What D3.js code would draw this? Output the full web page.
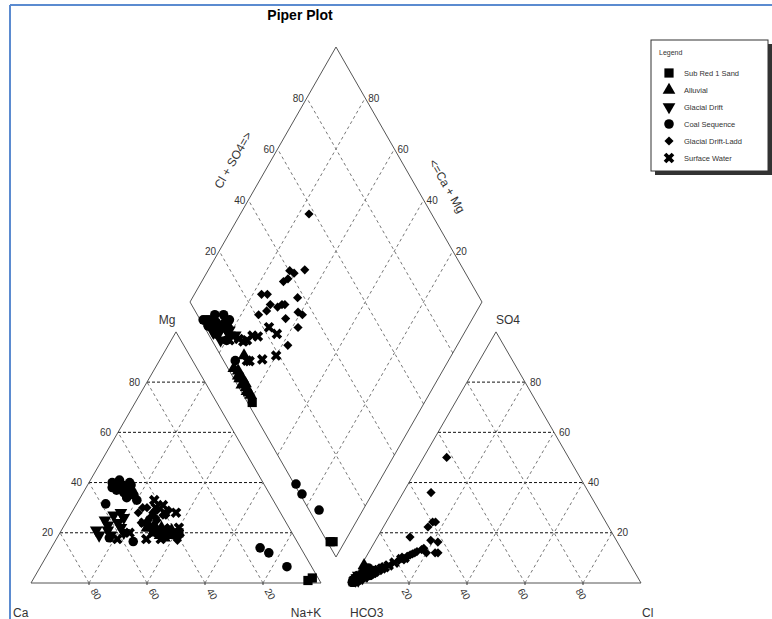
<!DOCTYPE html>
<meta charset="utf-8">
<style>
body { margin: 0; background: #fff; }
text { font-family: Arial, "Liberation Sans", sans-serif; }
.edge { fill: none; stroke: #555; stroke-width: 1px; }
.gridh { stroke: #111; stroke-width: 1px; stroke-dasharray: 3,2; }
.gridd { stroke: #777; stroke-width: 1px; stroke-dasharray: 3,3; }
.tick { fill: #333; font-size: 10px; }
.atitle { fill: #333; font-size: 12px; }
</style>
<body>
<script src="https://d3js.org/d3.v7.min.js"></script>
<script>

// legend / series names
var seriesNames = ["Sub Red 1 Sand", "Alluvial", "Glacial Drift", "Coal Sequence", "Glacial Drift-Ladd", "Surface Water"];
var tickValues = [20, 40, 60, 80];

// samples: [Mg, Na+K, SO4, Cl] in percent (Ca and HCO3 are the rest)
var subRedSand = [[2, 96, 1, 1], [20, 41, 1, 0.6], [1, 95, 0.5, 0.5]];
var alluvial = [[24, 28, 1.5, 0.5], [22, 30, 2, 1], [23, 31, 1, 1], [21, 32, 1.5, 0.5], [20, 33, 2, 1],
  [22, 34, 1, 0.5], [19, 35, 2, 1], [20, 36, 1.5, 1], [18, 37, 1, 1], [21, 38, 2, 0.5], [19, 39, 1.5, 1], [22, 29, 7, 1]];
var glacialDrift = [[19, 14, 1, 1], [19, 18, 2, 1], [21, 12, 1, 2], [23, 15, 2, 2], [25, 13, 3, 1], [27, 15, 2, 3],
  [24, 18, 4, 3], [22, 20, 3, 4], [26, 19, 5, 3], [28, 17, 3, 4], [20, 22, 4, 5], [21, 16, 2, 2]];
var coalSequence = [[40, 8, 0.5, 0.5], [41, 10, 1, 1], [39, 12, 2, 1], [40, 14, 1, 2], [38, 13, 3, 2], [37, 16, 3, 3],
  [36, 17, 5, 5], [38, 9, 1, 1], [39.5, 11, 0.5, 1], [31.5, 10, 2, 1], [35, 18, 4, 4], [33, 20, 2, 3],
  [37, 11, 4, 2], [36, 14, 6, 3], [34, 16, 3, 5], [39, 15, 2, 0.5],
  [18, 18, 4, 4], [16.5, 27, 2, 2], [14, 72, 0.3, 0.3], [12, 76, 0.3, 0.4], [6.5, 85, 1.5, 1.9]];
var glacialDriftLadd = [[30, 23.5, 50, 8], [29, 33, 36, 9.6], [28, 28, 24.3, 16], [26, 28, 17, 19], [30, 25, 12, 16],
  [28, 23, 11.2, 14.8], [25, 28, 11.6, 15.4], [24, 28, 10.5, 14], [27, 33, 13.8, 18.2], [22, 36, 22.3, 15.4],
  [20, 39, 12, 23], [18, 41, 12, 24], [22, 36, 18.3, 11.2], [19, 42, 12, 20], [17, 42, 10.7, 14.3],
  [25, 31, 12.5, 16.5], [27, 32, 13.3, 17.7], [29, 29, 16.3, 21.8], [26, 30, 24.3, 17], [24, 26, 9, 12]];
var surfaceWater = [[33, 26, 4.5, 6], [30, 28, 6.3, 8.5], [28, 32, 9.5, 12.6], [28, 36, 10, 13.5], [20, 32, 3.8, 5],
  [17.5, 36, 5.8, 7.7], [22, 40, 8.1, 10.9], [20, 24, 4, 5.5], [17.5, 21, 2.6, 3.4], [17.5, 31, 3.4, 4.6],
  [24, 27, 5.2, 6.8], [31, 30, 7, 9.5]];

var seriesData = [subRedSand, alluvial, glacialDrift, coalSequence, glacialDriftLadd, surfaceWater];

// scales for the two triangles and the diamond
var xL = d3.scaleLinear().domain([0, 100]).range([31, 321]);
var xR = d3.scaleLinear().domain([0, 100]).range([351, 641]);
var yT = d3.scaleLinear().domain([0, 100]).range([583, 331.9]);
var xD = d3.scaleLinear().domain([-100, 100]).range([190, 482]);   // (Cl+SO4) - (Ca+Mg)
var yD = d3.scaleLinear().domain([0, 200]).range([557, 47]);       // (Cl+SO4) + (Ca+Mg)

function cat(mg, nak) { return [xL(nak + mg / 2), yT(mg)]; }
function ani(so4, cl) { return [xR(cl + so4 / 2), yT(so4)]; }
function dia(camg, clso4) { return [xD(clso4 - camg), yD(camg + clso4)]; }

var svg = d3.select("body").append("svg")
    .attr("width", 772)
    .attr("height", 619);

// window frame
svg.append("line").attr("x1", 10).attr("y1", 5).attr("x2", 772).attr("y2", 5)
    .attr("stroke", "#5b8bd0").attr("stroke-width", 2);
svg.append("line").attr("x1", 10).attr("y1", 5).attr("x2", 10).attr("y2", 619)
    .attr("stroke", "#5b8bd0").attr("stroke-width", 2);

svg.append("text").attr("x", 300).attr("y", 20).attr("text-anchor", "middle")
    .style("font-size", "14px").style("font-weight", "bold").text("Piper Plot");

var line = d3.line();
var g = svg.append("g");

// grid lines
tickValues.forEach(function(t) {
  // cation triangle
  g.append("path").attr("class", "gridh").attr("d", line([cat(t, 0), cat(t, 100 - t)]));
  g.append("path").attr("class", "gridd").attr("d", line([cat(0, t), cat(100 - t, t)]));
  g.append("path").attr("class", "gridd").attr("d", line([cat(0, 100 - t), cat(100 - t, 0)]));
  // anion triangle
  g.append("path").attr("class", "gridh").attr("d", line([ani(t, 0), ani(t, 100 - t)]));
  g.append("path").attr("class", "gridd").attr("d", line([ani(0, t), ani(100 - t, t)]));
  g.append("path").attr("class", "gridd").attr("d", line([ani(0, 100 - t), ani(100 - t, 0)]));
  // diamond
  g.append("path").attr("class", "gridd").attr("d", line([dia(t, 0), dia(t, 100)]));
  g.append("path").attr("class", "gridd").attr("d", line([dia(0, t), dia(100, t)]));
});

// outlines
g.append("path").attr("class", "edge").attr("d", line([cat(0, 0), cat(0, 100), cat(100, 0)]) + "Z");
g.append("path").attr("class", "edge").attr("d", line([ani(0, 0), ani(0, 100), ani(100, 0)]) + "Z");
g.append("path").attr("class", "edge").attr("d", line([dia(0, 0), dia(100, 0), dia(100, 100), dia(0, 100)]) + "Z");

// tick labels
tickValues.forEach(function(t) {
  // cation bottom: Ca
  var p = cat(0, 100 - t);
  g.append("line").attr("x1", p[0]).attr("x2", p[0]).attr("y1", p[1]).attr("y2", p[1] + 2).attr("stroke", "#333");
  g.append("text").attr("class", "tick").attr("text-anchor", "middle").attr("dy", "0.35em")
      .attr("transform", "translate(" + (p[0] + 7) + "," + (p[1] + 11) + ") rotate(60)").text(t);
  // cation left: Mg
  p = cat(t, 0);
  g.append("text").attr("class", "tick").attr("text-anchor", "end").attr("dy", "0.35em")
      .attr("x", p[0] - 7).attr("y", p[1]).text(t);
  // anion bottom: Cl
  p = ani(0, t);
  g.append("line").attr("x1", p[0]).attr("x2", p[0]).attr("y1", p[1]).attr("y2", p[1] + 2).attr("stroke", "#333");
  g.append("text").attr("class", "tick").attr("text-anchor", "middle").attr("dy", "0.35em")
      .attr("transform", "translate(" + (p[0] - 2) + "," + (p[1] + 11) + ") rotate(60)").text(t);
  // anion right: SO4
  p = ani(t, 100 - t);
  g.append("text").attr("class", "tick").attr("dy", "0.35em")
      .attr("x", p[0] + 5).attr("y", p[1]).text(t);
  // diamond upper left: Cl+SO4
  p = dia(100, t);
  g.append("text").attr("class", "tick").attr("text-anchor", "end").attr("dy", "0.35em")
      .attr("x", p[0] - 3).attr("y", p[1]).text(t);
  // diamond upper right: Ca+Mg
  p = dia(t, 100);
  g.append("text").attr("class", "tick").attr("dy", "0.35em")
      .attr("x", p[0] + 3).attr("y", p[1]).text(t);
});

// axis titles
g.append("text").attr("class", "atitle").attr("x", 167).attr("y", 324).attr("text-anchor", "middle").text("Mg");
g.append("text").attr("class", "atitle").attr("x", 13).attr("y", 617).text("Ca");
g.append("text").attr("class", "atitle").attr("x", 306).attr("y", 617).attr("text-anchor", "middle").text("Na+K");
g.append("text").attr("class", "atitle").attr("x", 350).attr("y", 617).text("HCO3");
g.append("text").attr("class", "atitle").attr("x", 642).attr("y", 617).text("Cl");
g.append("text").attr("class", "atitle").attr("x", 508).attr("y", 324).attr("text-anchor", "middle").text("SO4");
g.append("text").attr("class", "atitle").attr("text-anchor", "middle").attr("dy", "0.35em")
    .attr("transform", "translate(233,160) rotate(-60)").text("Cl + SO4=>");
g.append("text").attr("class", "atitle").attr("text-anchor", "middle").attr("dy", "0.35em")
    .attr("transform", "translate(447,186) rotate(60)").text("<=Ca + Mg");

// marker symbols
var symbols = [
  {type: d3.symbolSquare, size: 85, rot: 0},
  {type: d3.symbolTriangle, size: 70, rot: 0},
  {type: d3.symbolTriangle, size: 70, rot: 180},
  {type: d3.symbolCircle, size: 72, rot: 0},
  {type: d3.symbolSquare, size: 42, rot: 45},
  {type: d3.symbolCross, size: 70, rot: 45}
];

function drawPoints(data, k) {
  var sym = d3.symbol().type(symbols[k].type).size(symbols[k].size);
  var pts = [];
  data.forEach(function(d) {
    pts.push(cat(d[0], d[1]));
    pts.push(ani(d[2], d[3]));
    pts.push(dia(100 - d[1], d[2] + d[3]));
  });
  g.append("g").selectAll("path").data(pts).join("path")
      .attr("d", sym)
      .attr("fill", "#000")
      .attr("transform", function(p) { return "translate(" + p[0] + "," + p[1] + ") rotate(" + symbols[k].rot + ")"; });
}
seriesData.forEach(drawPoints);

// legend
var lg = svg.append("g");
lg.append("rect").attr("x", 655).attr("y", 44).attr("width", 117).attr("height", 131).attr("fill", "#333");
lg.append("rect").attr("x", 651).attr("y", 40).attr("width", 117).attr("height", 131)
    .attr("fill", "#fff").attr("stroke", "#333");
lg.append("text").attr("x", 659).attr("y", 55).style("font-size", "7px").attr("fill", "#333").text("Legend");
seriesNames.forEach(function(name, i) {
  var y = 73 + i * 17;
  var sym = d3.symbol().type(symbols[i].type).size(symbols[i].size);
  lg.append("path").attr("d", sym).attr("fill", "#000")
      .attr("transform", "translate(669," + y + ") rotate(" + symbols[i].rot + ")");
  lg.append("text").attr("x", 684).attr("y", y).attr("dy", "0.35em")
      .style("font-size", "7.5px").attr("fill", "#333").text(name);
});

</script>
</body>
